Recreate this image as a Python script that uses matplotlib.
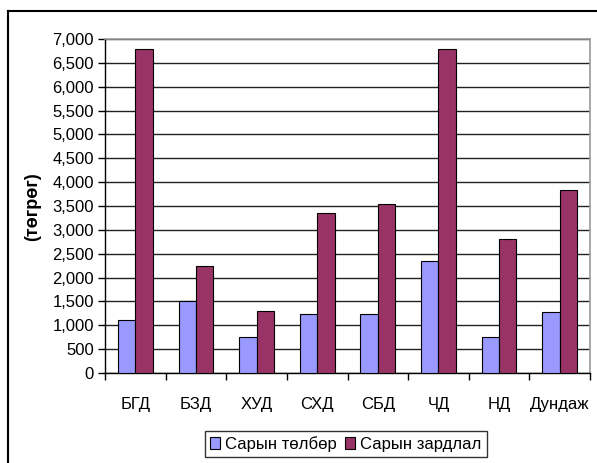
import numpy as np
import matplotlib
matplotlib.use('Agg')
import matplotlib.pyplot as plt
from matplotlib.ticker import FuncFormatter, MultipleLocator
from matplotlib.lines import Line2D

plt.rcParams['font.family'] = ['Liberation Sans', 'DejaVu Sans']
plt.rcParams['font.size'] = 12

categories = ['БГД', 'БЗД', 'ХУД', 'СХД', 'СБД', 'ЧД', 'НД', 'Дундаж']
payment = [1110, 1500, 750, 1240, 1240, 2350, 750, 1270]
expense = [6790, 2250, 1290, 3360, 3540, 6790, 2800, 3830]
series_names = ['Сарын төлбөр', 'Сарын зардлал']

C_PAY = '#9999FF'
C_EXP = '#993366'

W, H = 597, 463
fig = plt.figure(figsize=(W / 100, H / 100), dpi=100)
ax = fig.add_axes([105 / W, (H - 373) / H, (590 - 105) / W, (373 - 39) / H])

x = np.arange(len(categories))
bw = 0.286
ax.bar(x - bw / 2, payment, bw, color=C_PAY, edgecolor='black', linewidth=0.8,
       label=series_names[0], zorder=3)
ax.bar(x + bw / 2, expense, bw, color=C_EXP, edgecolor='black', linewidth=0.8,
       label=series_names[1], zorder=3)

ax.set_xlim(-0.5, len(categories) - 0.5)
ax.set_ylim(0, 7000)
ax.yaxis.set_major_locator(MultipleLocator(500))
ax.yaxis.set_major_formatter(FuncFormatter(lambda v, p: f'{int(v):,}'))
ax.grid(True, axis='y', color='#222222', linewidth=1.0, zorder=0)

ax.set_xticks(x)
ax.set_xticklabels(categories)
ax.set_xticks(np.arange(len(categories) + 1) - 0.5, minor=True)
ax.tick_params(axis='x', which='major', length=0, pad=17)
ax.tick_params(axis='x', which='minor', length=5, width=1, direction='out')
ax.tick_params(axis='y', length=5, width=1, direction='out', pad=3)

for s in ['top', 'right']:
    ax.spines[s].set_color('#999999')
    ax.spines[s].set_linewidth(1.2)
for s in ['left', 'bottom']:
    ax.spines[s].set_color('black')
    ax.spines[s].set_linewidth(1.0)

fig.text(33 / W, 1 - 207 / H, '(төгрөг)', rotation=90, ha='center', va='center',
         fontsize=13, fontweight='bold')

# outer chart frame
fig.add_artist(Line2D([8 / W, 8 / W], [-0.05, 1 - 11 / H], color='black', lw=1.5,
                      transform=fig.transFigure))
fig.add_artist(Line2D([8 / W, 1.05], [1 - 11 / H, 1 - 11 / H], color='black', lw=1.5,
                      transform=fig.transFigure))

leg = fig.legend(loc='upper center', bbox_to_anchor=(346 / W, 1 - 431 / H),
                 ncol=2, frameon=True, fancybox=False, edgecolor='black',
                 handlelength=0.6, handleheight=0.7, handletextpad=0.3,
                 columnspacing=0.5, borderpad=0.3, borderaxespad=0.0, fontsize=12)
leg.get_frame().set_linewidth(1.0)

fig.savefig('out.png', dpi=100, facecolor='white')
